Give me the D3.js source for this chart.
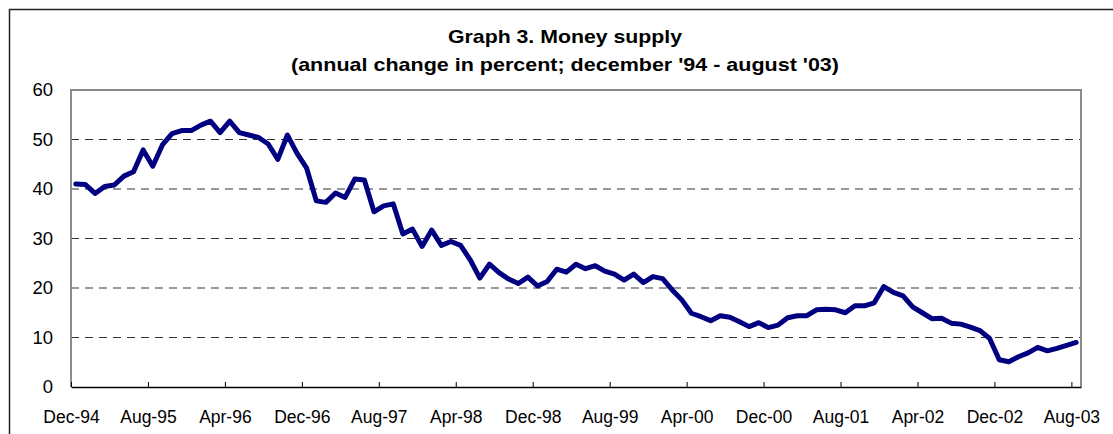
<!DOCTYPE html>
<html>
<head>
<meta charset="utf-8">
<script src="https://cdn.jsdelivr.net/npm/d3@7"></script>
<style>
  body { margin: 0; background: #fff; }
  svg { display: block; font-family: Arial, "Liberation Sans", sans-serif; }
</style>
</head>
<body>
<div id="container"></div>
<script>
// monthly money supply growth, Dec-94 .. Aug-03 (105 months)
var growth = [
    41.0, 40.9, 39.1, 40.5, 40.8, 42.6, 43.5, 47.9, 44.6, 48.9,
    51.2, 51.8, 51.8, 52.9, 53.7, 51.4, 53.7, 51.4, 50.9, 50.4,
    49.1, 46.0, 50.9, 47.2, 44.2, 37.6, 37.3, 39.2, 38.3, 42.0,
    41.8, 35.4, 36.6, 37.0, 30.9, 31.9, 28.4, 31.7, 28.6, 29.4,
    28.6, 25.7, 22.0, 24.8, 23.1, 21.8, 20.9, 22.2, 20.4, 21.3,
    23.8, 23.2, 24.8, 23.9, 24.5, 23.4, 22.8, 21.6, 22.8, 21.1,
    22.3, 21.9, 19.6, 17.6, 14.9, 14.2, 13.4, 14.4, 14.1, 13.2,
    12.2, 13.0, 12.0, 12.5, 14.0, 14.4, 14.4, 15.6, 15.7, 15.6,
    15.0, 16.4, 16.4, 17.0, 20.3, 19.1, 18.4, 16.2, 15.0, 13.8,
    13.9, 12.9, 12.7, 12.1, 11.4, 9.8, 5.5, 5.1, 6.1, 6.9,
    8.0, 7.3, 7.8, 8.4, 9.0
];
var tickLabels = ["Dec-94", "Aug-95", "Apr-96", "Dec-96", "Aug-97", "Apr-98", "Dec-98",
                  "Aug-99", "Apr-00", "Dec-00", "Aug-01", "Apr-02", "Dec-02", "Aug-03"];
var yTicks = [0, 10, 20, 30, 40, 50, 60];
var titleLines = ["Graph 3. Money supply", "(annual change in percent; december '94 - august '03)"];

var W = 1113, H = 434;
var plot = {left: 71, right: 1081, top: 90, bottom: 387};

var svg = d3.select("#container").append("svg")
    .attr("width", W)
    .attr("height", H);

// outer chart frame
svg.append("rect")
    .attr("x", 9.5).attr("y", 9.5)
    .attr("width", 1110).attr("height", 440)
    .attr("fill", "none")
    .attr("stroke", "#222")
    .attr("stroke-width", 1.5);

// titles
svg.selectAll("text.title")
    .data(titleLines)
    .enter().append("text")
    .attr("class", "title")
    .attr("x", 565)
    .attr("y", function(d, i) { return i ? 71 : 43; })
    .attr("text-anchor", "middle")
    .attr("font-size", 18.5)
    .attr("font-weight", "bold")
    .attr("textLength", function(d, i) { return i ? 548 : 234; })
    .attr("lengthAdjust", "spacingAndGlyphs")
    .text(function(d) { return d; });

var x = d3.scaleLinear().domain([0, growth.length]).range([plot.left, plot.right]);
var y = d3.scaleLinear().domain([0, 60]).range([plot.bottom, plot.top]);

// dashed gridlines
svg.append("g")
    .selectAll("line")
    .data(yTicks.filter(function(v) { return v > 0 && v < 60; }))
    .enter().append("line")
    .attr("x1", plot.left).attr("x2", plot.right)
    .attr("y1", function(d) { return y(d); })
    .attr("y2", function(d) { return y(d); })
    .attr("stroke", "#333")
    .attr("stroke-width", 1)
    .attr("stroke-dasharray", "8,6");

// plot border (top, right, left) in gray
svg.append("path")
    .attr("d", "M" + plot.left + "," + plot.bottom + "V" + plot.top + "H" + plot.right + "V" + plot.bottom)
    .attr("fill", "none")
    .attr("stroke", "#8c8c8c")
    .attr("stroke-width", 2);

// y axis labels
var yAxis = svg.append("g")
    .attr("transform", "translate(" + plot.left + ",0)")
    .call(d3.axisLeft(y).tickValues(yTicks).tickSize(0).tickPadding(18));
yAxis.select(".domain").remove();
yAxis.selectAll("text")
    .attr("font-size", 18.5)
    .attr("font-family", "Arial, 'Liberation Sans', sans-serif")
    .attr("fill", "#000");

// x axis: ticks between categories, every 8 months, pointing up
var tickIdx = tickLabels.map(function(d, i) { return i * 8; });
var xAxis = svg.append("g")
    .attr("transform", "translate(0," + plot.bottom + ")")
    .call(d3.axisBottom(x)
        .tickValues(tickIdx)
        .tickSizeInner(-5)
        .tickSizeOuter(0)
        .tickPadding(24)
        .tickFormat(function(d, i) { return tickLabels[i]; }));
xAxis.select(".domain")
    .attr("stroke", "#000")
    .attr("stroke-width", 1.5);
xAxis.selectAll(".tick line").attr("stroke", "#000");
xAxis.selectAll("text")
    .attr("font-size", 17.5)
    .attr("font-family", "Arial, 'Liberation Sans', sans-serif")
    .attr("fill", "#000");

// the series
var line = d3.line()
    .x(function(d, i) { return x(i + 0.5); })
    .y(function(d) { return y(d); });

svg.append("path")
    .datum(growth)
    .attr("d", line)
    .attr("fill", "none")
    .attr("stroke", "#000080")
    .attr("stroke-width", 5)
    .attr("stroke-linejoin", "round")
    .attr("stroke-linecap", "round");
</script>
</body>
</html>
